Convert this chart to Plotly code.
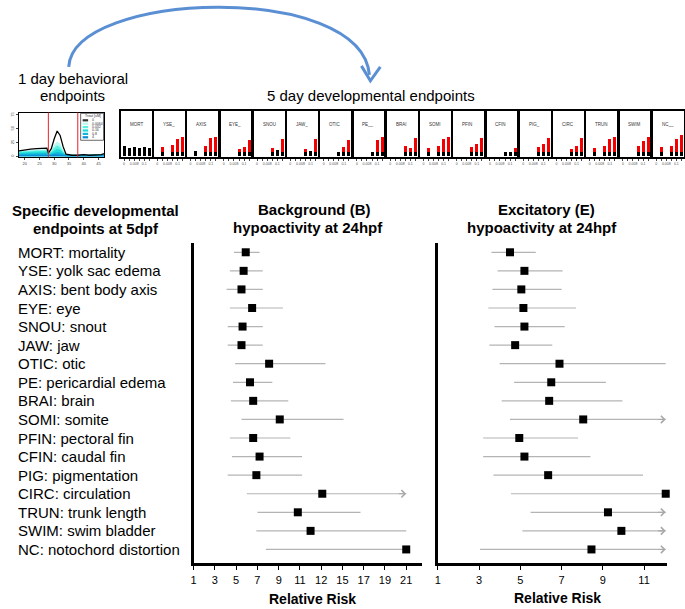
import plotly.graph_objects as go

W, H = 685, 609
FONT = "Liberation Sans, Arial, sans-serif"

# ---------------- forest plot data ----------------
categories = ["MORT: mortality", "YSE: yolk sac edema", "AXIS: bent body axis", "EYE: eye",
              "SNOU: snout", "JAW: jaw", "OTIC: otic", "PE: pericardial edema", "BRAI: brain",
              "SOMI: somite", "PFIN: pectoral fin", "CFIN: caudal fin", "PIG: pigmentation",
              "CIRC: circulation", "TRUN: trunk length", "SWIM: swim bladder",
              "NC: notochord distortion"]

b_rr = [5.9, 5.7, 5.5, 6.5, 5.6, 5.5, 8.1, 6.3, 6.6, 9.1, 6.6, 7.2, 6.9, 13.1, 10.8, 12.0, 21.0]
b_lo = [4.8, 4.4, 4.1, 4.4, 4.2, 4.2, 4.9, 4.7, 4.5, 5.5, 4.4, 4.6, 4.2, 6.0, 7.0, 6.9, 7.8]
b_hi = [7.2, 7.5, 7.5, 9.4, 7.5, 7.5, 13.4, 8.4, 9.9, 15.1, 10.1, 11.2, 11.2, 21.0, 16.7, 21.0, 21.0]
b_arrow = [False] * 13 + [True, False, False, False]

e_rr = [4.5, 5.2, 5.05, 5.15, 5.2, 4.75, 6.9, 6.5, 6.4, 8.05, 4.95, 5.2, 6.35, 12.05, 9.25, 9.9, 8.45]
e_lo = [3.6, 3.9, 3.65, 3.45, 3.75, 3.5, 4.0, 4.7, 4.1, 4.5, 3.2, 3.2, 3.7, 4.55, 5.5, 5.1, 3.05]
e_hi = [5.75, 7.05, 7.0, 7.7, 7.15, 6.55, 12.05, 9.15, 9.95, 12.05, 7.8, 8.4, 10.95, 12.05, 12.05, 12.05, 12.05]
e_arrow = [False] * 9 + [True, False, False, False, False, True, True, True]

b_tickvals = [1, 3, 5, 7, 9, 11, 13, 15, 17, 19, 21]
b_ticktext = ["1", "3", "5", "7", "9", "11", "12", "15", "17", "19", "21"]
e_tickvals = [1, 3, 5, 7, 9, 11]

# ---------------- 5 day developmental thumbnails ----------------
panel_names = ["MORT", "YSE_", "AXIS", "EYE_", "SNOU", "JAW_", "OTIC", "PE__", "BRAI",
               "SOMI", "PFIN", "CFIN", "PIG_", "CIRC", "TRUN", "SWIM", "NC__"]
dose_idx = [0, 1, 2, 3, 4, 5]
dose_ticktext = ["0", "", "0.008", "", "0.1", ""]
panel_black = [
    [10, 7.7, 9, 7.7, 9, 7.7],
    [0, 4, 0, 4, 4, 4],
    [0, 5, 0, 4, 4, 4],
    [0, 0, 0, 4, 4, 4],
    [0, 0, 0, 4, 5.7, 4],
    [0, 0, 0, 4, 5, 4],
    [0, 0, 0, 4, 4, 4],
    [0, 0, 0, 4, 4, 4],
    [0, 0, 0, 4, 4, 4],
    [0, 4, 0, 4, 4, 4],
    [0, 0, 0, 4, 4, 4],
    [0, 0, 0, 4, 4, 4],
    [0, 0, 0, 4, 4, 4],
    [0, 0, 0, 4, 4, 4],
    [0, 4, 0, 4, 4, 4],
    [0, 0, 0, 4, 4, 4],
    [0, 4, 0, 4, 4, 4],
]
panel_red = [
    [0, 0, 0, 0, 0, 0],
    [0, 5, 0, 6.7, 13.3, 15.3],
    [0, 0, 0, 6, 13.7, 15.3],
    [0, 0, 0, 3.3, 5, 11.7],
    [0, 0, 0, 3.7, 0, 12.7],
    [0, 0, 0, 2.7, 0, 12.7],
    [0, 0, 0, 0, 5, 11.7],
    [0, 0, 0, 0, 11.7, 15.3],
    [0, 0, 0, 6, 3.7, 13.7],
    [0, 3.7, 0, 6, 12.7, 15.3],
    [0, 0, 0, 5, 8.3, 13.7],
    [0, 0, 0, 0, 0, 3.7],
    [0, 0, 0, 5, 8.3, 13.7],
    [0, 0, 0, 2.7, 6, 13.7],
    [0, 3.7, 0, 6, 12.7, 15.3],
    [0, 0, 0, 6, 11, 15.3],
    [0, 5, 0, 6, 12.7, 17],
]

# ---------------- 1 day behavioural thumbnail ----------------
beh_time = [18, 20, 22, 24, 26, 27.5, 28, 29, 30, 31, 32, 33, 34, 36, 38, 40, 42, 44, 46, 47]
beh_ctrl = [10, 12, 13, 14, 15, 15, 6, 14, 32, 46, 38, 18, 4, 2, 2, 3, 2, 2, 3, 5]
beh_doses = [
    [9, 10, 11, 11, 12, 12, 5, 10, 20, 26, 22, 11, 3, 2, 2, 2, 2, 2, 2, 4],
    [8, 9, 10, 10, 10, 10, 4, 8, 15, 19, 16, 8, 3, 2, 2, 2, 2, 2, 2, 3],
    [6, 7, 7, 8, 8, 8, 3, 6, 10, 13, 11, 6, 2, 2, 2, 2, 2, 2, 2, 3],
    [4, 4, 5, 5, 5, 5, 2, 4, 6, 7, 6, 4, 2, 1, 1, 1, 1, 1, 1, 2],
    [2, 2, 2, 2, 2, 2, 1, 2, 3, 3, 3, 2, 1, 1, 1, 1, 1, 1, 1, 1],
]
beh_dose_labels = ["0.0064", "0.032", "0.16", "0.8", "4"]
beh_colors = ["#b5faf2", "#5cf0e4", "#20dcd8", "#12b6da", "#0a8cd8"]
beh_light_switch = [28, 38]


def fx(px):
    return px / W


def fy(py):
    return 1 - py / H


fig = go.Figure()
layout = dict(
    width=W, height=H, margin=dict(l=0, r=0, t=0, b=0),
    paper_bgcolor="white", plot_bgcolor="rgba(0,0,0,0)",
    showlegend=False, barmode="stack", bargap=0,
    font=dict(family=FONT, color="black"),
)
annotations = []
shapes = []

# ---- forest plots ----
row_top, row_bot = 242.3, 563.3
forest_y_range = [16.75, -0.505]
for ax_n, rr, lo, hi, arrows, dom, xr, tv, tt in [
    (1, b_rr, b_lo, b_hi, b_arrow, [191.5, 420.7], [1, 22.47], b_tickvals, b_ticktext),
    (2, e_rr, e_lo, e_hi, e_arrow, [436.7, 667.3], [1, 12.13], e_tickvals, [str(v) for v in e_tickvals]),
]:
    xs = "x" if ax_n == 1 else f"x{ax_n}"
    ys = "y" if ax_n == 1 else f"y{ax_n}"
    fig.add_trace(go.Scatter(
        x=rr, y=categories, xaxis=xs, yaxis=ys, mode="markers", cliponaxis=False,
        marker=dict(symbol="square", size=8, color="black"),
        error_x=dict(type="data", symmetric=False,
                     array=[h - r for h, r in zip(hi, rr)],
                     arrayminus=[r - l for r, l in zip(rr, lo)],
                     color="#b4b4b4", thickness=1.2, width=0),
        hoverinfo="x+y",
    ))
    kx = "xaxis" if ax_n == 1 else f"xaxis{ax_n}"
    ky = "yaxis" if ax_n == 1 else f"yaxis{ax_n}"
    layout[kx] = dict(domain=[fx(dom[0]), fx(dom[1])], range=xr, anchor=ys,
                      showline=True, linewidth=3, linecolor="black",
                      ticks="outside", ticklen=4, tickwidth=1.2, tickcolor="black",
                      tickvals=tv, ticktext=tt, tickfont=dict(size=11, family=FONT),
                      showgrid=False, zeroline=False)
    layout[ky] = dict(domain=[fy(row_bot), fy(row_top)], type="category",
                      categoryorder="array", categoryarray=categories,
                      range=forest_y_range, anchor=xs,
                      showline=True, linewidth=3, linecolor="black",
                      showticklabels=False, ticks="", showgrid=False, zeroline=False)
    for cat, h, a in zip(categories, hi, arrows):
        if a:
            annotations.append(dict(x=h, y=cat, xref=xs, yref=ys, text="", showarrow=True,
                                    ax=-9, ay=0, arrowhead=4, arrowsize=1.3, arrowwidth=1.1,
                                    arrowcolor="#a8a8a8", standoff=0))

for cat in categories:
    annotations.append(dict(x=fx(13.5), y=cat, xref="paper", yref="y", text=cat,
                            showarrow=False, xanchor="left", yanchor="middle",
                            font=dict(size=15, family=FONT)))

# ---- behaviour thumbnail (axis 3) ----
for vals, col in zip(beh_doses, beh_colors):
    fig.add_trace(go.Scatter(x=beh_time, y=vals, xaxis="x3", yaxis="y3", mode="lines",
                             fill="tozeroy", fillcolor=col, line=dict(color=col, width=0.8),
                             hoverinfo="skip"))
fig.add_trace(go.Scatter(x=beh_time, y=beh_ctrl, xaxis="x3", yaxis="y3", mode="lines",
                         line=dict(color="black", width=1.3), hoverinfo="skip"))
layout["xaxis3"] = dict(domain=[fx(16), fx(101.7)], range=[18, 47], anchor="y3",
                        showline=True, mirror=True, linewidth=1, linecolor="black",
                        ticks="outside", ticklen=2, tickwidth=0.6,
                        tickvals=[20, 25, 30, 35, 40, 45],
                        tickfont=dict(size=4, color="#444"), showgrid=False, zeroline=False)
layout["yaxis3"] = dict(domain=[fy(156.7), fy(111.7)], range=[-2, 79.5], anchor="x3",
                        showline=True, mirror=True, linewidth=1, linecolor="black",
                        ticks="outside", ticklen=2, tickwidth=0.6, tickvals=[0, 25, 50, 75],
                        tickangle=-90, tickfont=dict(size=4, color="#444"),
                        showgrid=False, zeroline=False)
for t in beh_light_switch:
    shapes.append(dict(type="line", xref="x3", yref="y3 domain", x0=t, x1=t, y0=0, y1=1,
                       line=dict(color="#e8202a", width=1)))

# ---- developmental thumbnails (axes 4..20) ----
for i, (name, blk, red) in enumerate(zip(panel_names, panel_black, panel_red)):
    n = 4 + i
    left = 118.3 + 33.4 * i
    fig.add_trace(go.Bar(x=dose_idx, y=blk, xaxis=f"x{n}", yaxis=f"y{n}", width=0.7,
                         marker=dict(color="black", line=dict(width=0)), hoverinfo="skip"))
    fig.add_trace(go.Bar(x=dose_idx, y=red, xaxis=f"x{n}", yaxis=f"y{n}", width=0.7,
                         marker=dict(color="#f40000", line=dict(width=0)), hoverinfo="skip"))
    layout[f"xaxis{n}"] = dict(domain=[fx(left), fx(left + 31)], range=[-0.65, 5.45],
                               anchor=f"y{n}", showline=True, mirror=True, linewidth=1.5,
                               linecolor="black", ticks="outside", ticklen=2, tickwidth=0.6,
                               tickvals=dose_idx, ticktext=dose_ticktext,
                               tickfont=dict(size=3.5, color="#555"),
                               showgrid=False, zeroline=False)
    layout[f"yaxis{n}"] = dict(domain=[fy(156.7), fy(110)], range=[-1.5, 45], anchor=f"x{n}",
                               showline=True, mirror=True, linewidth=1.5, linecolor="black",
                               showticklabels=False, ticks="", showgrid=False, zeroline=False)
    annotations.append(dict(x=0.22, y=0.8, xref=f"x{n} domain", yref=f"y{n} domain",
                            text=name, showarrow=False, xanchor="left",
                            font=dict(size=4.5, color="#333", family=FONT)))

# ---- pixel overlay axis (21) for decorations ----
fig.add_trace(go.Scatter(x=[None], y=[None], xaxis="x21", yaxis="y21", showlegend=False,
                         hoverinfo="skip"))
layout["xaxis21"] = dict(domain=[0, 1], range=[0, W], visible=False, anchor="y21", fixedrange=True)
layout["yaxis21"] = dict(domain=[0, 1], range=[H, 0], visible=False, anchor="x21", fixedrange=True)

# curved blue arrow
shapes.append(dict(type="path", xref="x21", yref="y21",
                   path="M 66 66 C 70 -10, 360 -20, 368 74",
                   line=dict(color="#5b8fd4", width=3), layer="above"))
shapes.append(dict(type="path", xref="x21", yref="y21",
                   path="M 360 65 L 369 80 L 379 66",
                   line=dict(color="#5b8fd4", width=3), layer="above"))

# behaviour legend box
shapes.append(dict(type="rect", xref="x21", yref="y21", x0=78, x1=101, y0=112.5, y1=139.5,
                   line=dict(color="black", width=0.6), fillcolor="white", layer="above"))
annotations.append(dict(x=80, y=115.5, xref="x21", yref="y21", text="Treat [uM]",
                        showarrow=False, xanchor="left", font=dict(size=3.5, color="#333")))
leg_labels = ["0"] + beh_dose_labels
leg_colors = ["#333333"] + beh_colors
for k, (lab, col) in enumerate(zip(leg_labels, leg_colors)):
    yy = 119.5 + 3.4 * k
    shapes.append(dict(type="line", xref="x21", yref="y21", x0=80, x1=85.5, y0=yy, y1=yy,
                       line=dict(color=col, width=2.2), layer="above"))
    annotations.append(dict(x=87, y=yy, xref="x21", yref="y21", text=lab, showarrow=False,
                            xanchor="left", font=dict(size=3.5, color="#333")))

# text blocks
def txt(x, y, s, size=15, bold=False):
    annotations.append(dict(x=x, y=y, xref="x21", yref="y21",
                            text=f"<b>{s}</b>" if bold else s, showarrow=False,
                            xanchor="center", yanchor="middle",
                            font=dict(size=size, family=FONT, color="black")))

txt(70, 77.5, "1 day behavioral")
txt(70, 95, "endpoints")
txt(370, 95, "5 day developmental endpoints")
txt(93, 210, "Specific developmental", bold=True)
txt(93, 228, "endpoints at 5dpf", bold=True)
txt(312.7, 209.3, "Background (B)", bold=True)
txt(306, 226.7, "hypoactivity at 24hpf", bold=True)
txt(545.5, 209.3, "Excitatory (E)", bold=True)
txt(541, 226.7, "hypoactivity at 24hpf", bold=True)
txt(310.5, 599, "Relative Risk", size=14, bold=True)
txt(557, 598, "Relative Risk", size=14, bold=True)

layout["annotations"] = annotations
layout["shapes"] = shapes
fig.update_layout(**layout)
fig.write_html("out.html", config={"displayModeBar": False},
               post_script="document.body.style.margin='0';document.body.style.padding='0';")
